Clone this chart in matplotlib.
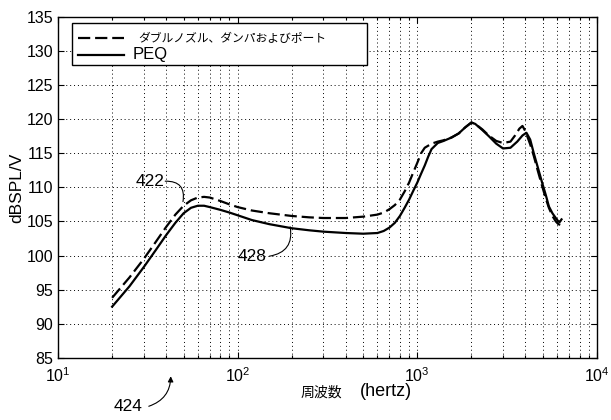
import matplotlib.pyplot as plt
from matplotlib.patches import Rectangle

plt.rcParams['font.family'] = ['Liberation Sans', 'Noto Sans CJK JP', 'DejaVu Sans']
plt.rcParams['mathtext.fontset'] = 'custom'
plt.rcParams['mathtext.rm'] = 'Liberation Sans'
plt.rcParams['mathtext.it'] = 'Liberation Sans'

# frequency response, double nozzle + damper + port (dashed)
freq_port = [20, 25, 30, 35, 40, 45, 50, 55, 60, 65, 70, 80, 90, 100, 120, 150,
             200, 250, 300, 400, 500, 600, 650, 700, 750, 800, 850, 900, 950,
             1000, 1050, 1100, 1200, 1300, 1400, 1550, 1700, 1850, 2000, 2100,
             2300, 2500, 2750, 3000, 3300, 3500, 3700, 3850, 4000, 4250, 4450,
             4700, 4950, 5200, 5400, 5650, 5900, 6100, 6250]
spl_port = [93.8, 96.8, 99.5, 102.0, 104.2, 106.0, 107.3, 108.1, 108.5, 108.6,
            108.5, 108.0, 107.5, 107.1, 106.6, 106.2, 105.8, 105.6, 105.5,
            105.5, 105.7, 106.0, 106.3, 106.8, 107.4, 108.2, 109.4, 110.7,
            112.2, 113.6, 115.0, 115.8, 116.4, 116.7, 116.9, 117.3, 117.9,
            118.8, 119.5, 119.3, 118.5, 117.6, 116.8, 116.5, 116.7, 117.6,
            118.6, 119.0, 118.2, 116.3, 114.6, 112.3, 110.2, 108.3, 107.0,
            105.8, 105.0, 104.6, 104.5]

# frequency response with PEQ (solid)
freq_peq = [20, 25, 30, 35, 40, 45, 50, 55, 60, 65, 70, 80, 90, 100, 120, 150,
            200, 250, 300, 400, 500, 600, 650, 700, 750, 800, 850, 900, 950,
            1000, 1050, 1100, 1150, 1200, 1300, 1400, 1550, 1700, 1850, 2000,
            2100, 2300, 2500, 2750, 3000, 3300, 3600, 3850, 4050, 4250, 4450,
            4700, 4950, 5200, 5400, 5650, 5900, 6100, 6200, 6350]
spl_peq = [92.5, 95.5, 98.3, 100.8, 103.0, 104.8, 106.2, 107.0, 107.3, 107.3,
           107.1, 106.7, 106.3, 105.9, 105.2, 104.6, 104.0, 103.7, 103.5,
           103.3, 103.2, 103.3, 103.6, 104.1, 104.8, 105.8, 107.0, 108.2,
           109.5, 110.7, 112.0, 113.2, 114.5, 115.6, 116.5, 116.8, 117.3,
           117.9, 118.8, 119.5, 119.3, 118.4, 117.5, 116.4, 115.7, 115.8,
           116.7, 117.6, 118.0, 117.0, 115.0, 112.8, 110.7, 108.8, 107.2,
           106.2, 105.5, 105.0, 104.9, 105.3]

legend_labels = ['ダブルノズル、ダンパおよびポート', 'PEQ']
y_ticks = [85, 90, 95, 100, 105, 110, 115, 120, 125, 130, 135]

DASH = (0, (5.5, 2.2))

fig = plt.figure(figsize=(6.11, 4.2), dpi=100)
ax = fig.add_axes([0.095, 0.148, 0.882, 0.812])

ax.plot(freq_port, spl_port, color='black', lw=1.6, ls=DASH)
ax.plot(freq_peq, spl_peq, color='black', lw=1.6)

ax.set_xscale('log')
ax.set_xlim(10, 10000)
ax.set_ylim(85, 135)
ax.set_yticks(y_ticks)
ax.tick_params(axis='both', which='both', direction='in', top=True, right=True,
               labelsize=11.5, width=0.8)
ax.tick_params(which='major', length=4)
ax.tick_params(which='minor', length=2)
ax.tick_params(axis='x', pad=6)
grid_kw = dict(ls=(0, (1, 3)), color='black', lw=0.7)
ax.grid(True, which='major', **grid_kw)
ax.grid(True, which='minor', axis='x', **grid_kw)
for sp in ax.spines.values():
    sp.set_linewidth(1.0)

ax.set_ylabel('dBSPL/V', fontsize=12.5, labelpad=2)
ax.text(0.527, -0.082, '周波数', transform=ax.transAxes, fontsize=10,
        ha='right', va='top', family=['Noto Sans CJK JP'])
ax.text(0.561, -0.074, '(hertz)', transform=ax.transAxes, fontsize=13,
        ha='left', va='top')

# legend box drawn by hand so it spans the same width as the frame text
tr = ax.transAxes
ax.add_patch(Rectangle((0.026, 0.86), 0.548, 0.123, transform=tr,
                       facecolor='white', edgecolor='black', lw=1.0,
                       zorder=5, clip_on=False))
ax.plot([0.037, 0.122], [0.937, 0.937], transform=tr, color='black', lw=1.6,
        ls=DASH, zorder=6, clip_on=False)
ax.plot([0.037, 0.122], [0.888, 0.888], transform=tr, color='black', lw=1.6,
        zorder=6, clip_on=False)
ax.text(0.148, 0.937, legend_labels[0], transform=tr, fontsize=8.5,
        style='italic', family=['Noto Sans CJK JP'], va='center', ha='left',
        zorder=7)
ax.text(0.139, 0.888, legend_labels[1], transform=tr, fontsize=12,
        va='center', ha='left', zorder=7)

# reference numerals with curved leaders
ax.text(32.4, 110.9, '422', fontsize=12.5, ha='center', va='center')
ax.annotate('', xy=(49.6, 107.9), xytext=(39.5, 110.9),
            arrowprops=dict(arrowstyle='-', color='black', lw=0.8,
                            connectionstyle='arc3,rad=-0.6',
                            shrinkA=0, shrinkB=0))
ax.text(119.6, 99.9, '428', fontsize=12.5, ha='center', va='center')
ax.annotate('', xy=(196, 104.2), xytext=(150, 99.9),
            arrowprops=dict(arrowstyle='-', color='black', lw=0.8,
                            connectionstyle='arc3,rad=0.5',
                            shrinkA=0, shrinkB=0))
ax.text(24.5, 77.8, '424', fontsize=12.5, ha='center', va='center',
        clip_on=False)
ax.annotate('', xy=(42.4, 82.3), xytext=(32.0, 77.9), annotation_clip=False,
            arrowprops=dict(arrowstyle='-|>', color='black', lw=0.8,
                            mutation_scale=8,
                            connectionstyle='arc3,rad=0.35',
                            shrinkA=0, shrinkB=0))

fig.savefig('out.png', dpi=100)
